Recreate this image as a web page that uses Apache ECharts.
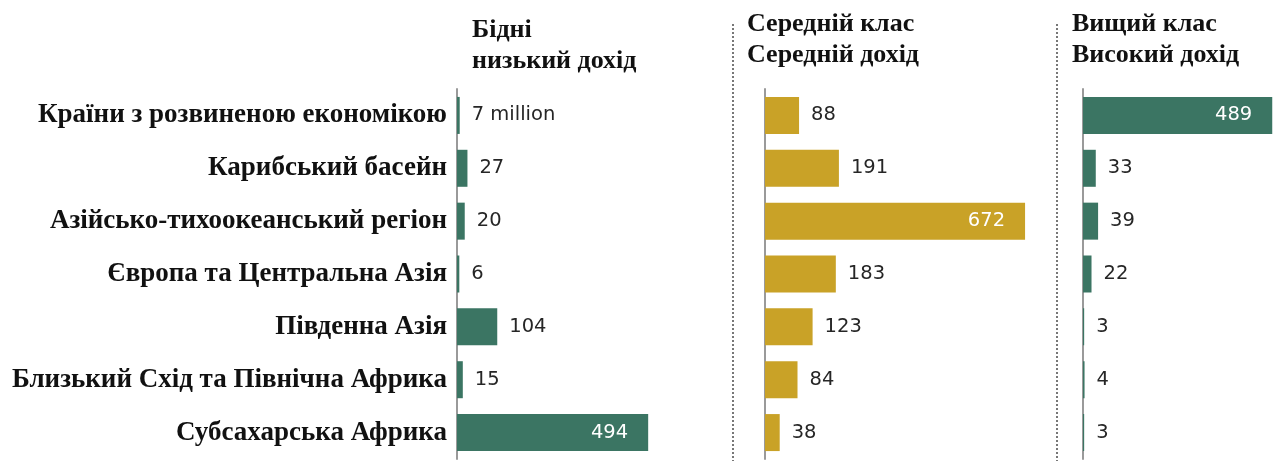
<!DOCTYPE html>
<html>
<head>
<meta charset="utf-8">
<script src="https://cdn.jsdelivr.net/npm/echarts@6/dist/echarts.min.js"></script>
<style>
  html, body { margin: 0; padding: 0; background: #fff; }
  #chart { width: 1279px; height: 461px; }
</style>
</head>
<body>
<div id="chart"></div>
<script>
// regions, top to bottom
const regions = [
  "Країни з розвиненою економікою",
  "Карибський басейн",
  "Азійсько-тихоокеанський регіон",
  "Європа та Центральна Азія",
  "Південна Азія",
  "Близький Схід та Північна Африка",
  "Субсахарська Африка"
];
const poorValues = [7, 27, 20, 6, 104, 15, 494];
const middleValues = [88, 191, 672, 183, 123, 84, 38];
const upperValues = [489, 33, 39, 22, 3, 4, 3];

const panelTitles = [
  ["Бідні", "низький дохід"],
  ["Середній клас", "Середній дохід"],
  ["Вищий клас", "Високий дохід"]
];

const green = "#3b7563";
const gold = "#c9a227";
const pxPerUnit = 0.387; // same scale for all three panels

const panels = [
  { left: 457, max: 520, values: poorValues, color: green, titleX: 472, titleTop: 15 },
  { left: 765, max: 700, values: middleValues, color: gold, titleX: 747, titleTop: 9 },
  { left: 1083, max: 500, values: upperValues, color: green, titleX: 1072, titleTop: 9 }
];

const chartDom = document.getElementById("chart");
const myChart = echarts.init(chartDom);

const grids = [], xAxes = [], yAxes = [], series = [];
panels.forEach((p, i) => {
  grids.push({ left: p.left, top: 89, height: 370, width: p.max * pxPerUnit });
  xAxes.push({
    type: "value", gridIndex: i, min: 0, max: p.max, show: false
  });
  yAxes.push({
    type: "category",
    gridIndex: i,
    data: regions,
    inverse: true,
    axisLine: { show: true, lineStyle: { color: "#9a9a9a", width: 2 } },
    axisTick: { show: false },
    splitLine: { show: false },
    axisLabel: {
      show: i === 0,
      margin: 10,
      fontFamily: "Liberation Serif",
      fontWeight: "bold",
      fontSize: 27,
      color: "#111"
    }
  });
  series.push({
    type: "bar",
    xAxisIndex: i,
    yAxisIndex: i,
    barWidth: 37,
    itemStyle: { color: p.color },
    data: p.values.map((v) => {
      const big = v > 400;
      return {
        value: v,
        label: big
          ? { position: "insideRight", distance: 20, color: "#fff" }
          : { position: "right", distance: 12, color: "#262626" }
      };
    }),
    label: {
      show: true,
      fontFamily: "DejaVu Sans",
      fontSize: 19.5,
      formatter: (params) => (i === 0 && params.dataIndex === 0) ? params.value + " million" : String(params.value)
    }
  });
});

const graphics = [];
panels.forEach((p, i) => {
  graphics.push({
    type: "text",
    left: p.titleX,
    top: p.titleTop,
    style: {
      text: panelTitles[i].join("\n"),
      font: "bold 26px 'Liberation Serif'",
      lineHeight: 31,
      fill: "#111"
    }
  });
});
[733, 1057].forEach((x) => {
  graphics.push({
    type: "line",
    shape: { x1: x, y1: 24, x2: x, y2: 461 },
    style: { stroke: "#777", lineWidth: 2, lineDash: [2, 2] }
  });
});

const options = {
  animation: false,
  grid: grids,
  xAxis: xAxes,
  yAxis: yAxes,
  series: series,
  graphic: graphics
};

myChart.setOption(options);
</script>
</body>
</html>
